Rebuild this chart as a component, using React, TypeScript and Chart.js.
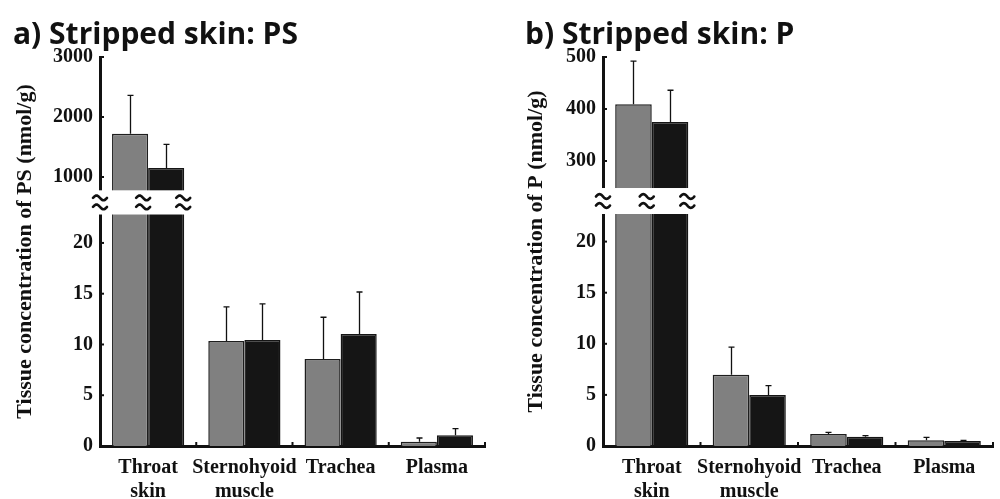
import React, { useEffect, useRef } from 'react';
import { Chart, registerables, LinearScale } from 'chart.js';

Chart.register(...registerables);

// ---------- data ----------
const categories = [['Throat', 'skin'], ['Sternohyoid', 'muscle'], 'Trachea', 'Plasma'];

// Panel a) PS
const psGrayMeans = [1720, 10.35, 8.58, 0.42];
const psGraySD = [640, 3.35, 4.1, 0.37];
const psBlackMeans = [1150, 10.45, 11.04, 1.05];
const psBlackSD = [395, 3.55, 4.13, 0.67];
const psTickValues = [0, 5, 10, 15, 20, 1000, 2000, 3000];

// Panel b) P
const pGrayMeans = [409, 6.96, 1.18, 0.56];
const pGraySD = [83, 2.72, 0.16, 0.29];
const pBlackMeans = [375, 5.0, 0.91, 0.49];
const pBlackSD = [61, 0.91, 0.1, 0.07];
const pTickValues = [0, 5, 10, 15, 20, 300, 400, 500];

const GRAY = '#808080';
const BLACK = '#151515';
const INK = '#111111';
const SERIF = "'Liberation Serif', 'Times New Roman', serif";

// ---------- broken linear scale ----------
class BrokenScale extends LinearScale {
  static id = 'broken';
  static defaults = {};
  buildTicks() {
    const o: any = this.options;
    return o.tickValues.map((v: number) => ({ value: v }));
  }
  parts() {
    const o: any = this.options;
    const h = this.bottom - this.top;
    const lowH = h * o.lowFrac;
    const gapH = h * o.gapFrac;
    const highH = h - lowH - gapH;
    return { lowMax: o.lowMax, highMin: o.highMin, lowH, gapH, highH };
  }
  getPixelForValue(value: any) {
    const p = this.parts();
    const v = Number(value);
    if (v <= p.lowMax) return this.bottom - (v / p.lowMax) * p.lowH;
    if (v >= p.highMin) return this.top + p.highH - ((v - p.highMin) / (this.max - p.highMin)) * p.highH;
    return this.bottom - p.lowH - ((v - p.lowMax) / (p.highMin - p.lowMax)) * p.gapH;
  }
  getValueForPixel(pixel: number) {
    const p = this.parts();
    const fromBottom = this.bottom - pixel;
    if (fromBottom <= p.lowH) return (fromBottom / p.lowH) * p.lowMax;
    if (fromBottom >= p.lowH + p.gapH)
      return p.highMin + ((fromBottom - p.lowH - p.gapH) / p.highH) * (this.max - p.highMin);
    return p.lowMax + ((fromBottom - p.lowH) / p.gapH) * (p.highMin - p.lowMax);
  }
}
Chart.register(BrokenScale as any);

function drawTilde(ctx: CanvasRenderingContext2D, cx: number, cy: number, w: number, a: number) {
  ctx.beginPath();
  const n = 24;
  for (let k = 0; k <= n; k++) {
    const t = k / n;
    const xx = cx - w / 2 + t * w;
    const yy = cy - a * Math.sin(t * 2 * Math.PI);
    if (k === 0) ctx.moveTo(xx, yy);
    else ctx.lineTo(xx, yy);
  }
  ctx.stroke();
}

const decorPlugin = {
  id: 'decor',
  afterDatasetsDraw(chart: any) {
    const ctx: CanvasRenderingContext2D = chart.ctx;
    const y: any = chart.scales.y;
    const x: any = chart.scales.x;
    const ca = chart.chartArea;
    ctx.save();
    // error bars (upward only)
    ctx.strokeStyle = INK;
    ctx.lineWidth = 1.3;
    chart.data.datasets.forEach((ds: any, di: number) => {
      const meta = chart.getDatasetMeta(di);
      meta.data.forEach((el: any, i: number) => {
        const mean = ds.data[i];
        const sd = ds.errors[i];
        const px = Math.round(el.x) + 0.5;
        const top = y.getPixelForValue(mean + sd);
        const base = y.getPixelForValue(mean);
        ctx.beginPath();
        ctx.moveTo(px, base);
        ctx.lineTo(px, top);
        ctx.moveTo(px - 3, top);
        ctx.lineTo(px + 3, top);
        ctx.stroke();
      });
    });
    // axis break gap
    const gTop = y.getPixelForValue(y.options.highMin);
    const gBot = y.getPixelForValue(y.options.lowMax);
    ctx.fillStyle = '#ffffff';
    ctx.fillRect(ca.left - 6, gTop, ca.right - ca.left + 8, gBot - gTop);
    const g0: any = chart.getDatasetMeta(0).data[0];
    const b0: any = chart.getDatasetMeta(1).data[0];
    const divX = g0.x + g0.width / 2;
    const rightX = b0.x + b0.width / 2;
    const cy = (gTop + gBot) / 2;
    ctx.strokeStyle = INK;
    ctx.lineWidth = 2.6;
    ctx.lineCap = 'round';
    [ca.left, divX - 5, rightX - 1].forEach((cx) => {
      drawTilde(ctx, cx, cy - 4.5, 14, 2.4);
      drawTilde(ctx, cx, cy + 4.5, 14, 2.4);
    });
    ctx.lineCap = 'butt';
    // inward tick nubs on y axis
    ctx.lineWidth = 2;
    y.ticks.forEach((t: any) => {
      const py = y.getPixelForValue(t.value);
      ctx.beginPath();
      ctx.moveTo(ca.left, py);
      ctx.lineTo(ca.left + 4, py);
      ctx.stroke();
    });
    // inward tick nubs on x axis at category boundaries
    const n = chart.data.labels.length;
    const cw = (ca.right - ca.left) / n;
    for (let i = 0; i < n; i++) {
      const bx = x.getPixelForValue(i) + cw / 2;
      ctx.beginPath();
      ctx.moveTo(bx, ca.bottom);
      ctx.lineTo(bx, ca.bottom - 4);
      ctx.stroke();
    }
    ctx.restore();
  },
};

interface PanelSpec {
  title: string;
  yTitle: string;
  gray: number[];
  graySD: number[];
  black: number[];
  blackSD: number[];
  tickValues: number[];
  max: number;
  lowMax: number;
  highMin: number;
  lowFrac: number;
  gapFrac: number;
  padLeft: number;
  padRight: number;
  axisWidth: number;
  yTitlePad: number;
}

const panelA: PanelSpec = {
  title: 'a) Stripped skin: PS',
  yTitle: 'Tissue concentration of PS (nmol/g)',
  gray: psGrayMeans,
  graySD: psGraySD,
  black: psBlackMeans,
  blackSD: psBlackSD,
  tickValues: psTickValues,
  max: 3000,
  lowMax: 22.8,
  highMin: 778,
  lowFrac: 0.5951,
  gapFrac: 0.0622,
  padLeft: 13,
  padRight: 15,
  axisWidth: 87,
  yTitlePad: 1,
};

const panelB: PanelSpec = {
  title: 'b) Stripped skin: P',
  yTitle: 'Tissue concentration of P (nmol/g)',
  gray: pGrayMeans,
  graySD: pGraySD,
  black: pBlackMeans,
  blackSD: pBlackSD,
  tickValues: pTickValues,
  max: 500,
  lowMax: 22.7,
  highMin: 248,
  lowFrac: 0.5964,
  gapFrac: 0.0668,
  padLeft: 25,
  padRight: 7,
  axisWidth: 78,
  yTitlePad: 0,
};

function makeConfig(p: PanelSpec): any {
  return {
    type: 'bar',
    data: {
      labels: categories,
      datasets: [
        {
          data: p.gray,
          errors: p.graySD,
          backgroundColor: GRAY,
          borderColor: '#1e1e1e',
          borderWidth: 1.5,
          barPercentage: 1,
          categoryPercentage: 0.75,
        },
        {
          data: p.black,
          errors: p.blackSD,
          backgroundColor: BLACK,
          borderColor: BLACK,
          borderWidth: 1.5,
          barPercentage: 1,
          categoryPercentage: 0.75,
        },
      ],
    },
    options: {
      animation: false,
      responsive: false,
      layout: { padding: { left: p.padLeft, right: p.padRight, top: 0, bottom: 0 } },
      plugins: {
        legend: { display: false },
        tooltip: { enabled: false },
        title: {
          display: true,
          text: p.title,
          align: 'start',
          color: INK,
          font: { family: "'Open Sans'", weight: 'bold', size: 30, lineHeight: 1.2 },
          padding: { top: 17, bottom: 4 },
        },
      },
      scales: {
        x: {
          type: 'category',
          offset: true,
          grid: { display: false, drawTicks: false },
          border: { display: true, width: 3, color: INK },
          ticks: {
            color: INK,
            font: { family: SERIF, weight: 'bold', size: 20, lineHeight: 1.2 },
            padding: 10,
            autoSkip: false,
            maxRotation: 0,
          },
          afterFit: (s: any) => {
            s.height = 53;
          },
        },
        y: {
          type: 'broken',
          min: 0,
          max: p.max,
          tickValues: p.tickValues,
          lowMax: p.lowMax,
          highMin: p.highMin,
          lowFrac: p.lowFrac,
          gapFrac: p.gapFrac,
          grid: { display: false, drawTicks: false },
          border: { display: true, width: 3, color: INK },
          ticks: {
            color: INK,
            font: { family: SERIF, weight: 'bold', size: 20 },
            padding: 7,
            autoSkip: false,
            callback: (v: any) => String(v),
          },
          title: {
            display: true,
            text: p.yTitle,
            color: INK,
            font: { family: SERIF, weight: 'bold', size: 22, lineHeight: 1 },
            padding: { top: p.yTitlePad, bottom: 0 },
          },
          afterFit: (s: any) => {
            s.width = p.axisWidth;
          },
        },
      },
    },
    plugins: [decorPlugin],
  };
}

function Panel({ spec }: { spec: PanelSpec }) {
  const ref = useRef<HTMLCanvasElement>(null);
  useEffect(() => {
    const chart = new Chart(ref.current as HTMLCanvasElement, makeConfig(spec));
    return () => chart.destroy();
  }, [spec]);
  return <canvas ref={ref} width={500} height={499} style={{ display: 'block', width: 500, height: 499 }} />;
}

export default function App() {
  return (
    <div
      style={{
        position: 'absolute',
        left: 0,
        top: 0,
        width: 1000,
        height: 499,
        display: 'flex',
        background: '#ffffff',
        overflow: 'hidden',
      }}
    >
      <Panel spec={panelA} />
      <Panel spec={panelB} />
    </div>
  );
}
